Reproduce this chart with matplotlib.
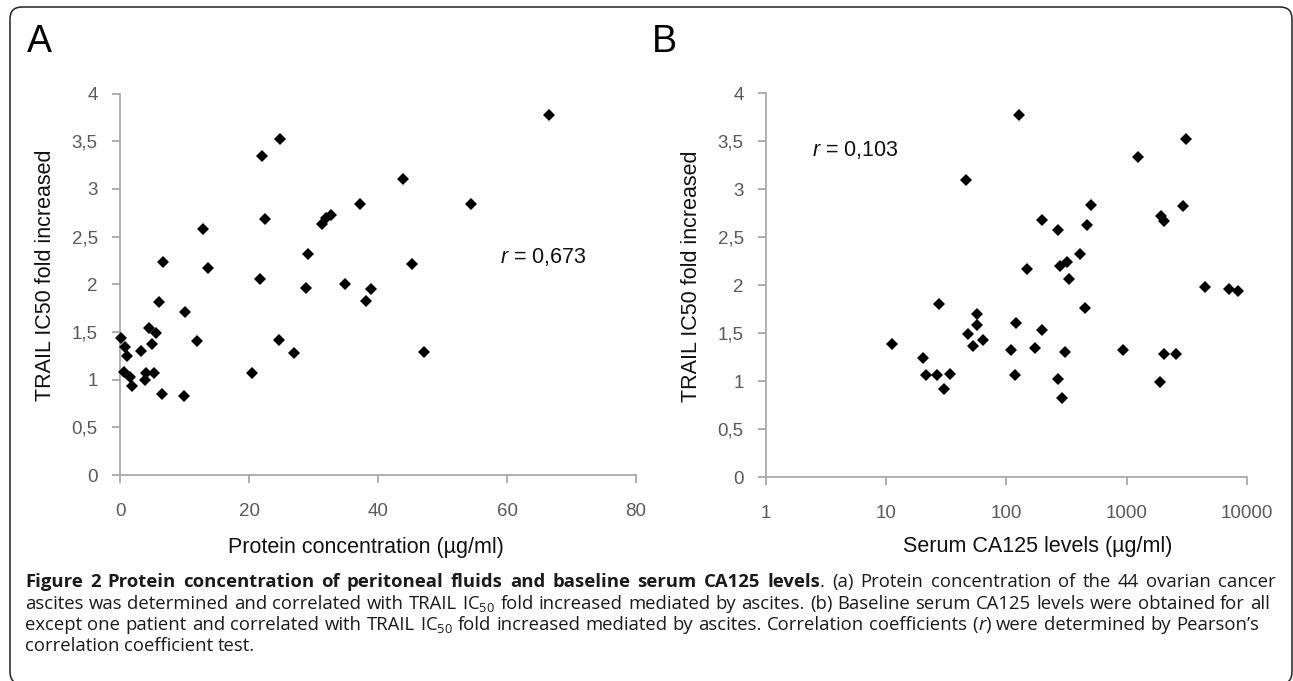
#!/usr/bin/env python3
"""Figure 2: TRAIL IC50 fold increase vs. ascites protein concentration (A)
and vs. baseline serum CA125 (B), with the journal caption underneath."""
import matplotlib

matplotlib.use("Agg")
import matplotlib.pyplot as plt
from matplotlib.patches import FancyBboxPatch
from matplotlib.ticker import NullLocator
from matplotlib.transforms import IdentityTransform

W, H, DPI = 1293, 681, 100

# Panel A: protein concentration (ug/ml) -> TRAIL IC50 fold increased
protein_conc = [0.1, 0.7, 1.1, 0.6, 1.5, 1.8, 3.3, 3.9, 4.1, 4.5, 4.9, 5.3,
                5.6, 6.0, 6.5, 6.7, 9.9, 10.1, 11.9, 12.8, 13.6, 20.5, 21.7,
                22.0, 22.5, 24.8, 24.7, 26.9, 28.8, 29.1, 31.3, 31.9, 32.7,
                34.9, 37.2, 38.2, 38.9, 43.9, 45.2, 47.2, 54.4, 66.5]
protein_fold = [1.44, 1.34, 1.25, 1.08, 1.03, 0.93, 1.30, 1.00, 1.07, 1.54,
                1.37, 1.07, 1.49, 1.81, 0.85, 2.23, 0.83, 1.71, 1.40, 2.58,
                2.17, 1.07, 2.06, 3.34, 2.68, 3.52, 1.42, 1.28, 1.96, 2.32,
                2.63, 2.69, 2.73, 2.00, 2.84, 1.82, 1.95, 3.10, 2.21, 1.29,
                2.84, 3.77]

# Panel B: serum CA125 (ug/ml, log axis) -> TRAIL IC50 fold increased
ca125_level = [11.2, 20.2, 21.4, 26.2, 27.3, 30.3, 33.9, 46.2, 47.8, 52.6,
               56.4, 57.1, 63.7, 127, 109, 119, 118, 147, 173, 196, 196, 266,
               269, 278, 291, 308, 318, 330, 410, 451, 463, 501, 935, 1247,
               1888, 1923, 2048, 2048, 2576, 2911, 3100, 4460, 7100, 8490]
ca125_fold = [1.39, 1.24, 1.06, 1.06, 1.80, 0.92, 1.07, 3.10, 1.49, 1.37,
              1.58, 1.70, 1.43, 3.77, 1.32, 1.61, 1.06, 2.17, 1.34, 2.68,
              1.53, 1.02, 2.58, 2.20, 0.82, 1.30, 2.24, 2.06, 2.32, 1.76,
              2.63, 2.84, 1.32, 3.34, 0.99, 2.72, 2.67, 1.28, 1.28, 2.83,
              3.52, 1.98, 1.96, 1.94]

fold_ticks = [0, 0.5, 1, 1.5, 2, 2.5, 3, 3.5, 4]
fold_ticklabels = ["0", "0,5", "1", "1,5", "2", "2,5", "3", "3,5", "4"]
protein_ticks = [0, 20, 40, 60, 80]
ca125_ticks = [1, 10, 100, 1000, 10000]

r_protein = "0,673"
r_ca125 = "0,103"

CAPTION_BOLD = ("Figure 2 Protein concentration of peritoneal fluids and "
                "baseline serum CA125 levels")
CAPTION_LINES = [
    ". (a) Protein concentration of the 44 ovarian cancer",
    "ascites was determined and correlated with TRAIL IC_50 fold increased "
    "mediated by ascites. (b) Baseline serum CA125 levels were obtained for all",
    "except one patient and correlated with TRAIL IC_50 fold increased "
    "mediated by ascites. Correlation coefficients (r) were determined by "
    "Pearson\u2019s",
    "correlation coefficient test.",
]

AXIS_GRAY = "#a8a8a8"
TICK_INK = "#5a5a5a"
CHART_FONT = "Liberation Sans"
CAPTION_FONT = "Open Sans"

plt.rcParams["font.family"] = [CHART_FONT, "DejaVu Sans"]
plt.rcParams["mathtext.fontset"] = "custom"
plt.rcParams["mathtext.it"] = "Liberation Sans:italic"
plt.rcParams["mathtext.rm"] = "Liberation Sans"


def style_axes(ax):
    for side in ("top", "right"):
        ax.spines[side].set_visible(False)
    for side in ("left", "bottom"):
        ax.spines[side].set_color(AXIS_GRAY)
        ax.spines[side].set_linewidth(1.3)
    ax.tick_params(direction="out", length=6, width=1.3, color=AXIS_GRAY,
                   labelcolor=TICK_INK, labelsize=13.5)
    ax.tick_params(axis="x", pad=14)
    ax.tick_params(axis="y", pad=10)
    ax.set_ylim(0, 4)
    ax.set_yticks(fold_ticks, fold_ticklabels)


def scatter(ax, x, y):
    ax.plot(x, y, ls="none", marker="D", ms=6, mew=0, color="black",
            clip_on=False, zorder=3)


def fig_px(fig, x, y, s, **kw):
    return fig.text(x / W, 1 - y / H, s, **kw)


def caption_words():
    lines = []
    bold = {"weight": "bold"}
    reg = {}
    for i, text in enumerate(CAPTION_LINES):
        words = []
        if i == 0:
            bw = CAPTION_BOLD.split(" ")
            words = [[(w, bold)] for w in bw]
            first, rest = text.split(" ", 1)
            words[-1].append((first, reg))
            text = rest
        for w in text.split(" "):
            if w == "IC_50":
                words.append([("IC$\\mathregular{_{50}}$", reg)])
            elif w == "(r)":
                words.append([("(", reg), ("r", {"style": "italic"}),
                              (")", reg)])
            else:
                words.append([(w, reg)])
        lines.append(words)
    return lines


def draw_caption(fig):
    renderer = fig.canvas.get_renderer()

    def width(s, kw, size):
        t = fig.text(0, 0, s, family=CAPTION_FONT, fontsize=size, **kw)
        w = t.get_window_extent(renderer).width
        t.remove()
        return w

    def natural(words, size):
        w = sum(width(s, kw, size) for word in words for s, kw in word)
        sp = width("a a", {}, size) - width("aa", {}, size)
        return w + sp * (len(words) - 1)

    lines = caption_words()
    # size chosen so the second (full) line sets nearly flush at its width
    size = 10 * 1232 / natural(lines[1], 10)

    x0 = 25
    ends = [1276, 1270, 1259, None]
    baselines = [587, 609, 630, 651]
    space = width("a a", {}, size) - width("aa", {}, size)
    for words, x1, yb in zip(lines, ends, baselines):
        seg_w = [[width(s, kw, size) for s, kw in word] for word in words]
        total = sum(sum(w) for w in seg_w)
        gap = space if x1 is None else (x1 - x0 - total) / (len(words) - 1)
        x = x0
        for word, ws in zip(words, seg_w):
            for (s, kw), w in zip(word, ws):
                fig_px(fig, x, yb, s, family=CAPTION_FONT, fontsize=size,
                       ha="left", va="baseline", color="#1a1a1a", **kw)
                x += w
            x += gap


def build_figure():
    fig = plt.figure(figsize=(W / DPI, H / DPI), dpi=DPI)
    fig.patch.set_facecolor("white")

    ax_a = fig.add_axes([120 / W, 1 - 475 / H, 516 / W, 381.5 / H])
    ax_b = fig.add_axes([766 / W, 1 - 477 / H, 481 / W, 383.7 / H])

    style_axes(ax_a)
    ax_a.set_xlim(0, 80)
    ax_a.set_xticks(protein_ticks, [str(t) for t in protein_ticks])
    scatter(ax_a, protein_conc, protein_fold)
    ax_a.set_xlabel("Protein concentration (\u00b5g/ml)", fontsize=15.5,
                    color="#111111", va="center")
    ax_a.xaxis.set_label_coords(0.477, -0.189)
    ax_a.set_ylabel("TRAIL IC50 fold increased", fontsize=15.5,
                    color="#111111", va="center")
    ax_a.yaxis.set_label_coords(-0.145, 0.523)
    ax_a.text(0.736, 0.571, f"$r$ = {r_protein}", transform=ax_a.transAxes,
              fontsize=15.5, ha="left", va="center", color="#111111")

    style_axes(ax_b)
    ax_b.set_xscale("log")
    ax_b.set_xlim(1, 10000)
    ax_b.set_xticks(ca125_ticks, [str(t) for t in ca125_ticks])
    ax_b.xaxis.set_minor_locator(NullLocator())
    scatter(ax_b, ca125_level, ca125_fold)
    ax_b.set_xlabel("Serum CA125 levels (\u00b5g/ml)", fontsize=15.5,
                    color="#111111", va="center")
    ax_b.xaxis.set_label_coords(0.565, -0.182)
    ax_b.set_ylabel("TRAIL IC50 fold increased", fontsize=15.5,
                    color="#111111", va="center")
    ax_b.yaxis.set_label_coords(-0.154, 0.5225)
    ax_b.text(0.095, 0.852, f"$r$ = {r_ca125}", transform=ax_b.transAxes,
              fontsize=15.5, ha="left", va="center", color="#111111")

    fig_px(fig, 27, 52, "A", fontsize=27, ha="left", va="baseline")
    fig_px(fig, 652, 52, "B", fontsize=27, ha="left", va="baseline")

    # rounded frame around the whole figure, in display pixels
    fig.patches.append(FancyBboxPatch(
        (10, -3), 1282, 677, boxstyle="round,pad=0,rounding_size=12",
        transform=IdentityTransform(), facecolor="none",
        edgecolor="#222222", linewidth=1.1, figure=fig))

    fig.canvas.draw()
    draw_caption(fig)
    return fig


def main():
    fig = build_figure()
    fig.savefig("out.png", dpi=DPI, facecolor=fig.get_facecolor())
    plt.close(fig)


if __name__ == "__main__":
    main()
